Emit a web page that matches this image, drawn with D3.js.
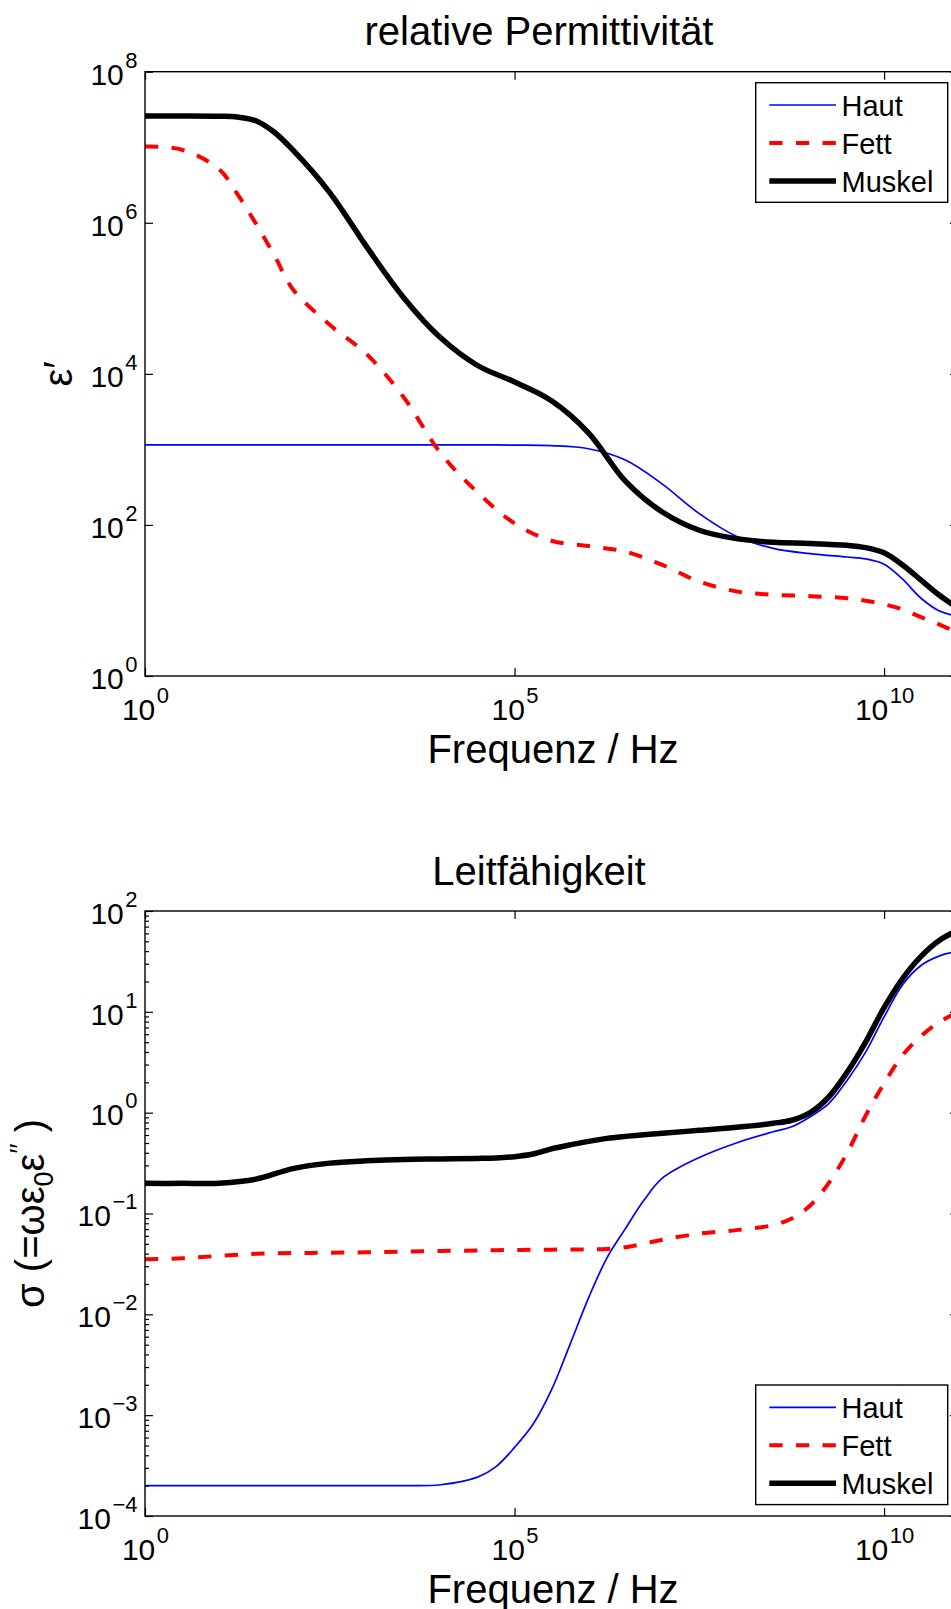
<!DOCTYPE html>
<html>
<head>
<meta charset="utf-8">
<script src="https://cdn.jsdelivr.net/npm/d3@7"></script>
<style>
  html, body { margin: 0; padding: 0; background: #fff; }
  svg { display: block; font-family: "Liberation Sans", Arial, Helvetica, sans-serif; }
</style>
</head>
<body>
<svg id="chart" width="951" height="1609"></svg>
<script>
// ---- data: relative permittivity (eps') of skin, fat and muscle ----
const freqEps = [1, 3.16, 10, 17.8, 31.6, 56.2, 100, 316, 1e3, 3.16e3, 1e4, 3.16e4, 1e5, 3.16e5,
  1e6, 3.16e6, 1e7, 3.16e7, 1e8, 3.16e8, 1e9, 3.16e9, 5.62e9, 1e10, 1.78e10, 3.16e10, 5.62e10, 1e11];
const epsHaut = [1150, 1150, 1150, 1150, 1150, 1150, 1150, 1150, 1150, 1150, 1150, 1150, 1140, 1120,
  1020, 724, 347, 141, 70.8, 49, 41.7, 37.6, 35.5, 30.2, 19.1, 10.7, 7.24, 6.17];
const epsFett = [1.02e7, 9.27e6, 5.13e6, 2.4e6, 9.77e5, 3.72e5, 1.32e5, 4.47e4, 1.82e4, 4.9e3, 891, 269, 105, 61.7,
  52.5, 44.2, 29.5, 17.8, 13.2, 11.9, 11.4, 10.7, 9.9, 8.9, 7.6, 6.0, 4.8, 3.7];
const epsMuskel = [2.59e7, 2.59e7, 2.57e7, 2.51e7, 2.24e7, 1.58e7, 9.2e6, 2.51e6, 4.79e5, 1.02e5, 3.0e4, 1.29e4, 7.8e3, 4.4e3,
  1.66e3, 380, 148, 85, 65.8, 58.9, 56.9, 53.7, 50.1, 42.7, 29.5, 18.6, 11.7, 7.9];

// ---- data: conductivity sigma (S/m) ----
const freqSigma = [1, 3.16, 10, 31.6, 100, 316, 1e3, 3.16e3, 1e4, 3.16e4, 5.62e4, 1e5, 1.78e5, 3.16e5, 5.62e5,
  1e6, 1.78e6, 3.16e6, 5.62e6, 1e7, 3.16e7, 1e8, 3.16e8, 5.62e8, 1e9, 1.78e9, 3.16e9, 5.62e9,
  1e10, 1.78e10, 3.16e10, 5.62e10, 1e11];
const sigmaHaut = [2.0e-4, 2.0e-4, 2.0e-4, 2.0e-4, 2.0e-4, 2.0e-4, 2.0e-4, 2.0e-4, 2.04e-4, 2.43e-4, 3.09e-4,
  4.79e-4, 8.13e-4, 1.78e-3, 5.01e-3, 0.0145, 0.0363, 0.0708, 0.135, 0.224, 0.359, 0.501, 0.646, 0.724,
  0.912, 1.23, 2.09, 3.98, 8.91, 18.6, 28.8, 35.9, 39.8];
const sigmaFett = [0.0351, 0.0359, 0.038, 0.0398, 0.0405, 0.0408, 0.0412, 0.0419, 0.0425, 0.043, 0.0432,
  0.0435, 0.0436, 0.0438, 0.0439, 0.0441, 0.0445, 0.0462, 0.0501, 0.055, 0.0631, 0.0684, 0.0767, 0.0891,
  0.12, 0.2, 0.398, 0.933, 1.95, 3.72, 5.75, 7.94, 10];
const sigmaMuskel = [0.199, 0.199, 0.2, 0.219, 0.279, 0.316, 0.333, 0.344, 0.348, 0.352, 0.356,
  0.366, 0.389, 0.437, 0.479, 0.519, 0.556, 0.582, 0.605, 0.624, 0.668, 0.716, 0.785, 0.841,
  1.0, 1.43, 2.51, 5.01, 11.0, 21.4, 35.5, 51.3, 64.6];

// ---- axes ----
const seriesNames = ["Haut", "Fett", "Muskel"];
const xDomain = [1, 1e11];
const xTicks = [1, 1e5, 1e10];
const epsDomain = [1, 1e8];
const epsTicks = [1, 1e2, 1e4, 1e6, 1e8];
const sigmaDomain = [1e-4, 1e2];
const sigmaTicks = [1e-4, 1e-3, 1e-2, 1e-1, 1, 1e1, 1e2];

const lineStyle = {
  Haut:   { color: "#0000ff", width: 1.7, dash: null },
  Fett:   { color: "#ff0000", width: 4,   dash: "13.3,13.3" },
  Muskel: { color: "#000000", width: 5.5, dash: null }
};

const svg = d3.select("#chart");
const left = 145, right = 958;

// "10" with the exponent set as a superscript
function powerLabel(text) {
  text.each(function (d) {
    const e = Math.round(Math.log10(d));
    const t = d3.select(this);
    t.text(null);
    t.append("tspan").text("10");
    t.append("tspan").attr("dx", 1.5).attr("dy", -17).attr("font-size", 22)
      .text(e < 0 ? "\u2212" + (-e) : String(e));
  });
}

function drawPanel(cfg) {
  const x = d3.scaleLog().domain(xDomain).range([left, right]);
  const y = d3.scaleLog().domain(cfg.yDomain).range([cfg.bottom, cfg.top]);
  const g = svg.append("g");

  const clipId = "clip-" + cfg.id;
  g.append("clipPath").attr("id", clipId).append("rect")
    .attr("x", left).attr("y", cfg.top)
    .attr("width", right - left).attr("height", cfg.bottom - cfg.top);

  // curves
  const line = d3.line()
    .x(d => x(d[0])).y(d => y(d[1]))
    .curve(d3.curveCatmullRom.alpha(0.5));
  const plot = g.append("g").attr("clip-path", `url(#${clipId})`);
  seriesNames.forEach((name, i) => {
    const pts = cfg.freq.map((f, j) => [f, cfg.values[i][j]]);
    const st = lineStyle[name];
    plot.append("path").datum(pts)
      .attr("d", line)
      .attr("fill", "none")
      .attr("stroke", st.color)
      .attr("stroke-width", st.width)
      .attr("stroke-linejoin", "round")
      .attr("stroke-dasharray", st.dash);
  });

  // axis box
  g.append("rect")
    .attr("x", left).attr("y", cfg.top)
    .attr("width", right - left).attr("height", cfg.bottom - cfg.top)
    .attr("fill", "none").attr("stroke", "#000").attr("stroke-width", 1.4);

  const styleAxis = a => {
    a.attr("font-size", null).attr("font-family", null);
    a.select(".domain").remove();
    a.selectAll(".tick line").attr("stroke", "#000").attr("stroke-width", 1.2);
  };

  // bottom x axis with labels
  const xb = g.append("g").attr("transform", `translate(0,${cfg.bottom})`)
    .call(d3.axisBottom(x).tickValues(xTicks).tickSizeInner(-8).tickSizeOuter(0));
  styleAxis(xb);
  xb.selectAll(".tick text")
    .attr("y", 43.5).attr("dy", 0).attr("font-size", 30).attr("fill", "#000")
    .attr("text-anchor", "middle")
    .call(powerLabel);

  // top x axis (ticks only)
  const xt = g.append("g").attr("transform", `translate(0,${cfg.top})`)
    .call(d3.axisTop(x).tickValues(xTicks).tickSizeInner(-8).tickSizeOuter(0).tickFormat(""));
  styleAxis(xt);

  // left y axis
  const yl = g.append("g").attr("transform", `translate(${left},0)`)
    .call(d3.axisLeft(y).tickValues(cfg.yTicks).tickSizeInner(-8).tickSizeOuter(0));
  styleAxis(yl);
  yl.selectAll(".tick text")
    .attr("x", -7.5).attr("y", 12.3).attr("dy", 0).attr("font-size", 30).attr("fill", "#000")
    .attr("text-anchor", "end")
    .call(powerLabel);

  // right y axis (ticks only)
  const yr = g.append("g").attr("transform", `translate(${right},0)`)
    .call(d3.axisRight(y).tickValues(cfg.yTicks).tickSizeInner(-8).tickSizeOuter(0).tickFormat(""));
  styleAxis(yr);

  // minor log ticks
  if (cfg.minor) {
    const minors = y.ticks().filter(v => Math.abs(Math.log10(v) - Math.round(Math.log10(v))) > 1e-6);
    [[left, d3.axisLeft], [right, d3.axisRight]].forEach(([pos, ax]) => {
      const m = g.append("g").attr("transform", `translate(${pos},0)`)
        .call(ax(y).tickValues(minors).tickSizeInner(-4).tickSizeOuter(0).tickFormat(""));
      styleAxis(m);
    });
  }

  // title and x label
  g.append("text").attr("x", 539).attr("y", cfg.top - 26.5)
    .attr("text-anchor", "middle").attr("font-size", 40).attr("fill", "#000")
    .text(cfg.title);
  g.append("text").attr("x", 553).attr("y", cfg.bottom + 86.5)
    .attr("text-anchor", "middle").attr("font-size", 40).attr("fill", "#000")
    .text("Frequenz / Hz");

  // y label
  const yMid = (cfg.top + cfg.bottom) / 2;
  const yl2 = g.append("text")
    .attr("transform", `translate(${cfg.yLabelX},${yMid}) rotate(-90)`)
    .attr("text-anchor", "middle").attr("font-size", 40).attr("fill", "#000");
  cfg.yLabel(yl2);

  // legend
  const lx = 755.7, ly = cfg.legendTop, lw = 192, lh = 119.6;
  const leg = g.append("g");
  leg.append("rect").attr("x", lx).attr("y", ly).attr("width", lw).attr("height", lh)
    .attr("fill", "#fff").attr("stroke", "#000").attr("stroke-width", 1.4);
  seriesNames.forEach((name, i) => {
    const cy = ly + 22.3 + i * 38;
    const st = lineStyle[name];
    leg.append("line").attr("x1", 769.3).attr("x2", 836).attr("y1", cy).attr("y2", cy)
      .attr("stroke", st.color).attr("stroke-width", st.width)
      .attr("stroke-dasharray", st.dash);
    leg.append("text").attr("x", 841.5).attr("y", cy + 10.5)
      .attr("font-size", 29).attr("fill", "#000").text(name);
  });
}

drawPanel({
  id: "eps", top: 71.7, bottom: 676, yDomain: epsDomain, yTicks: epsTicks, minor: false,
  freq: freqEps, values: [epsHaut, epsFett, epsMuskel],
  title: "relative Permittivität", legendTop: 82.7, yLabelX: 72,
  yLabel: t => { t.append("tspan").text("\u03B5\u2032"); }
});

drawPanel({
  id: "sigma", top: 911, bottom: 1516, yDomain: sigmaDomain, yTicks: sigmaTicks, minor: true,
  freq: freqSigma, values: [sigmaHaut, sigmaFett, sigmaMuskel],
  title: "Leitfähigkeit", legendTop: 1385, yLabelX: 44,
  yLabel: t => {
    t.append("tspan").text("\u03C3 (=\u03C9\u03B5");
    t.append("tspan").attr("dy", 9).attr("font-size", 27).text("0");
    t.append("tspan").attr("dy", -9).text("\u03B5");
    t.append("tspan").attr("dy", -15).attr("font-size", 27).text("\u2032\u2032");
    t.append("tspan").attr("dy", 15).text(" )");
  }
});
</script>
</body>
</html>
